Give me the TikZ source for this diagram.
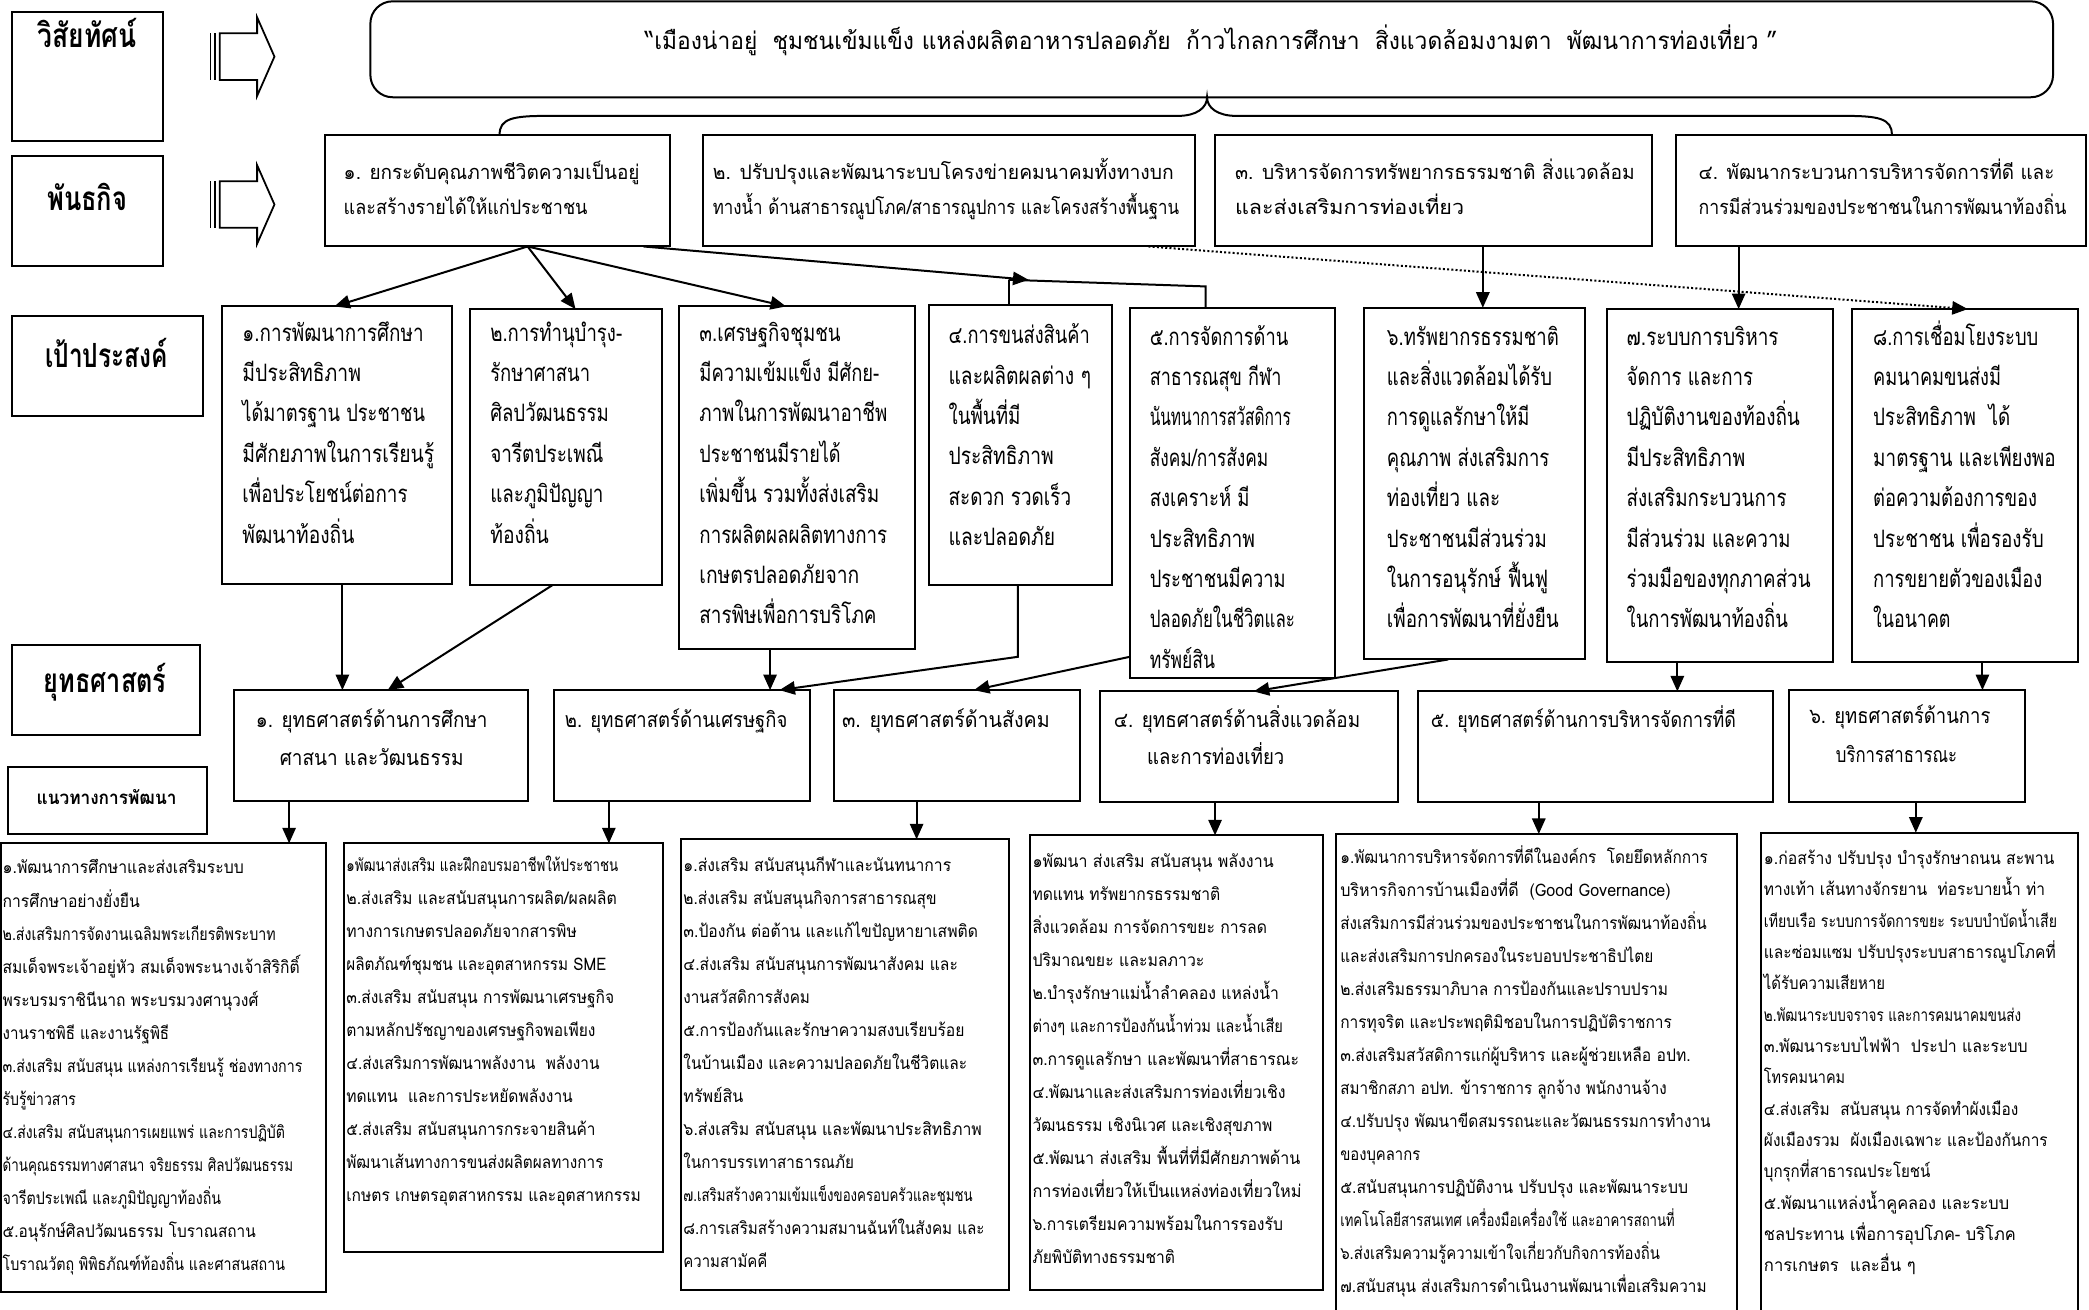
\documentclass[tikz,border=0pt]{standalone}
\usepackage{fontspec}
\usepackage{graphicx}
\setmainfont{Loma}[Script=Thai]
\usetikzlibrary{arrows.meta,calc,fit}
\newlength\un \setlength\un{0.6pt}
\newcommand{\FL}[2]{\resizebox{#1\un}{\height}{#2}}
\newcommand{\TL}[1]{\begin{tabular}[t]{@{}l@{}}#1\end{tabular}}
\newcommand{\TC}[1]{\begin{tabular}[t]{@{}c@{}}#1\end{tabular}}
\newcommand{\fLab}{\bfseries\fontsize{15pt}{18pt}\selectfont}
\newcommand{\fLabS}{\bfseries\fontsize{8.4pt}{10pt}\selectfont}
\newcommand{\fVis}{\fontsize{10.8pt}{13pt}\selectfont}
\newcommand{\fMis}{\fontsize{9pt}{15.6pt}\selectfont}
\newcommand{\fGoal}{\fontsize{10.8pt}{18.2pt}\selectfont}
\newcommand{\fStr}{\fontsize{9.6pt}{17pt}\selectfont}
\newcommand{\fBot}{\fontsize{7.8pt}{14.88pt}\selectfont}
\newcommand{\fBotB}{\fontsize{7.8pt}{14.1pt}\selectfont}
\tikzset{
  bx/.style={draw, line width=0.9pt, inner sep=0pt, outer sep=0pt},
  tx/.style={inner sep=0pt, outer sep=0pt, anchor=base west},
  txc/.style={inner sep=0pt, outer sep=0pt, anchor=base},
  con/.style={line width=0.9pt},
  arr/.style={con, -{Triangle[length=7pt,width=6pt]}},
  dots/.style={line width=0.9pt, densely dotted, -{Triangle[length=7pt,width=6pt]}},
  blk/.style={line width=0.8pt}
}
\begin{document}
\begin{tikzpicture}[x=0.6pt,y=-0.6pt]
\useasboundingbox (0,0) rectangle (1568,983);
\fill[white] (0,0) rectangle (1568,983);

% ---------- left labels ----------
\node[bx, fit={(9,9) (122,106)}] (L1) {};
\node[txc, font=\fLab] (L1t) at (65.5,36) {\FL{74}{วิสัยทัศน์}};
\node[bx, fit={(9,117) (122,200)}] (L2) {};
\node[txc, font=\fLab] (L2t) at (65.5,158) {\FL{60}{พันธกิจ}};
\node[bx, fit={(9,237) (152,312)}] (L3) {};
\node[txc, font=\fLab] (L3t) at (80,276) {\FL{92}{เป้าประสงค์}};
\node[bx, fit={(9,484) (150,552)}] (L4) {};
\node[txc, font=\fLab] (L4t) at (79,520) {\FL{92}{ยุทธศาสตร์}};
\node[bx, fit={(6,576) (155,626)}] (L5) {};
\node[txc, font=\fLabS] (L5t) at (80,604) {\FL{105}{แนวทางการพัฒนา}};

% ---------- block arrows ----------
\foreach \dy in {0,111}{
  \draw[blk] (158,{25+\dy}) -- (158,{60+\dy});
  \draw[blk] (161.5,{25+\dy}) -- (161.5,{60+\dy});
  \draw[blk] (165,{25+\dy}) -- (193,{25+\dy}) -- (193,{13+\dy}) -- (206,{42.5+\dy})
     -- (193,{72+\dy}) -- (193,{60+\dy}) -- (165,{60+\dy}) -- cycle;
}

% ---------- vision ----------
\node[bx, rounded corners=10pt, fit={(278,1) (1541,73)}] (V) {};
\node[txc, font=\fVis] (Vt) at (909,37) {\FL{850}{“เมืองน่าอยู่\ \ ชุมชนเข้มแข็ง แหล่งผลิตอาหารปลอดภัย\ \ ก้าวไกลการศึกษา\ \ สิ่งแวดล้อมงามตา\ \ พัฒนาการท่องเที่ยว ”}};

% ---------- missions ----------
\node[bx, fit={(244,101) (503,185)}] (M1) {};
\node[tx, font=\fMis] (M1t) at (258,135) {\TL{\FL{222}{๑. ยกระดับคุณภาพชีวิตความเป็นอยู่}\\ \FL{183}{และสร้างรายได้ให้แก่ประชาชน}}};
\node[bx, fit={(528,101) (897,185)}] (M2) {};
\node[tx, font=\fMis] (M2t) at (535,135) {\TL{\FL{346}{๒. ปรับปรุงและพัฒนาระบบโครงข่ายคมนาคมทั้งทางบก}\\ \FL{350}{ทางน้ำ ด้านสาธารณูปโภค/สาธารณูปการ และโครงสร้างพื้นฐาน}}};
\node[bx, fit={(912,101) (1240,185)}] (M3) {};
\node[tx, font=\fMis] (M3t) at (927,135) {\TL{\FL{300}{๓. บริหารจัดการทรัพยากรธรรมชาติ สิ่งแวดล้อม}\\ \FL{172}{และส่งเสริมการท่องเที่ยว}}};
\node[bx, fit={(1258,101) (1566,185)}] (M4) {};
\node[tx, font=\fMis] (M4t) at (1275,135) {\TL{\FL{267}{๔. พัฒนากระบวนการบริหารจัดการที่ดี และ}\\ \FL{276}{การมีส่วนร่วมของประชาชนในการพัฒนาท้องถิ่น}}};

% brace
\coordinate (bL) at ($(M1.north west)+(131,0)$);
\coordinate (bT) at ($(V.south west)+(628,0)$);
\coordinate (bR) at ($(M4.north west)+(162,0)$);
\draw[con] (bL) .. controls ($(bL)+(0,-12)$) and ($(bL)+(10,-14)$) .. ($(bL)+(35,-14)$)
  -- ($(bT)+(-22,14)$) .. controls ($(bT)+(-8,14)$) and ($(bT)+(0,8)$) .. (bT)
  .. controls ($(bT)+(0,8)$) and ($(bT)+(8,14)$) .. ($(bT)+(22,14)$)
  -- ($(bR)+(-35,-14)$) .. controls ($(bR)+(-10,-14)$) and ($(bR)+(0,-12)$) .. (bR);

% ---------- goals ----------
\node[bx, fit={(167,230) (339,438)}] (G1) {};
\node[tx, font=\fGoal] (G1t) at (182,256) {\TL{\FL{136}{๑.การพัฒนาการศึกษา}\\ \FL{89}{มีประสิทธิภาพ}\\ \FL{137}{ได้มาตรฐาน ประชาชน}\\ \FL{144}{มีศักยภาพในการเรียนรู้}\\ \FL{124}{เพื่อประโยชน์ต่อการ}\\ \FL{84}{พัฒนาท้องถิ่น}}};
\node[bx, fit={(353,232) (497,439)}] (G2) {};
\node[tx, font=\fGoal] (G2t) at (368,256) {\TL{\FL{99}{๒.การทำนุบำรุง-}\\ \FL{75}{รักษาศาสนา}\\ \FL{89}{ศิลปวัฒนธรรม}\\ \FL{85}{จารีตประเพณี}\\ \FL{85}{และภูมิปัญญา}\\ \FL{44}{ท้องถิ่น}}};
\node[bx, fit={(510,230) (687,487)}] (G3) {};
\node[tx, font=\fGoal] (G3t) at (525,256) {\TL{\FL{106}{๓.เศรษฐกิจชุมชน}\\ \FL{135}{มีความเข้มแข็ง มีศักย-}\\ \FL{141}{ภาพในการพัฒนาอาชีพ}\\ \FL{106}{ประชาชนมีรายได้}\\ \FL{135}{เพิ่มขึ้น รวมทั้งส่งเสริม}\\ \FL{141}{การผลิตผลผลิตทางการ}\\ \FL{120}{เกษตรปลอดภัยจาก}\\ \FL{133}{สารพิษเพื่อการบริโภค}}};
\node[bx, fit={(697,229) (835,439)}] (G4) {};
\node[tx, font=\fGoal] (G4t) at (712,258) {\TL{\FL{106}{๔.การขนส่งสินค้า}\\ \FL{107}{และผลิตผลต่าง ๆ}\\ \FL{54}{ในพื้นที่มี}\\ \FL{79}{ประสิทธิภาพ}\\ \FL{92}{สะดวก รวดเร็ว}\\ \FL{80}{และปลอดภัย}}};
\node[bx, fit={(848,231) (1002,509)}] (G5) {};
\node[tx, font=\fGoal] (G5t) at (863,259) {\TL{\FL{104}{๕.การจัดการด้าน}\\ \FL{99}{สาธารณสุข กีฬา}\\ \FL{106}{นันทนาการสวัสดิการ}\\ \FL{89}{สังคม/การสังคม}\\ \FL{75}{สงเคราะห์ มี}\\ \FL{79}{ประสิทธิภาพ}\\ \FL{102}{ประชาชนมีความ}\\ \FL{109}{ปลอดภัยในชีวิตและ}\\ \FL{49}{ทรัพย์สิน}}};
\node[bx, fit={(1024,231) (1190,495)}] (G6) {};
\node[tx, font=\fGoal] (G6t) at (1041,259) {\TL{\FL{129}{๖.ทรัพยากรธรรมชาติ}\\ \FL{124}{และสิ่งแวดล้อมได้รับ}\\ \FL{107}{การดูแลรักษาให้มี}\\ \FL{122}{คุณภาพ ส่งเสริมการ}\\ \FL{85}{ท่องเที่ยว และ}\\ \FL{120}{ประชาชนมีส่วนร่วม}\\ \FL{121}{ในการอนุรักษ์ ฟื้นฟู}\\ \FL{129}{เพื่อการพัฒนาที่ยั่งยืน}}};
\node[bx, fit={(1206,232) (1376,497)}] (G7) {};
\node[tx, font=\fGoal] (G7t) at (1221,259) {\TL{\FL{114}{๗.ระบบการบริหาร}\\ \FL{95}{จัดการ และการ}\\ \FL{130}{ปฏิบัติงานของท้องถิ่น}\\ \FL{89}{มีประสิทธิภาพ}\\ \FL{120}{ส่งเสริมกระบวนการ}\\ \FL{123}{มีส่วนร่วม และความ}\\ \FL{138}{ร่วมมือของทุกภาคส่วน}\\ \FL{121}{ในการพัฒนาท้องถิ่น}}};
\node[bx, fit={(1390,232) (1560,497)}] (G8) {};
\node[tx, font=\fGoal] (G8t) at (1406,259) {\TL{\FL{124}{๘.การเชื่อมโยงระบบ}\\ \FL{96}{คมนาคมขนส่งมี}\\ \FL{103}{ประสิทธิภาพ\ \ ได้}\\ \FL{137}{มาตรฐาน และเพียงพอ}\\ \FL{123}{ต่อความต้องการของ}\\ \FL{128}{ประชาชน เพื่อรองรับ}\\ \FL{127}{การขยายตัวของเมือง}\\ \FL{58}{ในอนาคต}}};

% ---------- strategies ----------
\node[bx, fit={(176,518) (396,601)}] (S1) {};
\node[txc, font=\fStr] (S1t) at (279,546) {\TC{\FL{174}{๑. ยุทธศาสตร์ด้านการศึกษา}\\ \FL{138}{ศาสนา และวัฒนธรรม}}};
\node[bx, fit={(416,518) (608,601)}] (S2) {};
\node[tx, font=\fStr] (S2t) at (424,546) {\FL{167}{๒. ยุทธศาสตร์ด้านเศรษฐกิจ}};
\node[bx, fit={(626,518) (811,601)}] (S3) {};
\node[tx, font=\fStr] (S3t) at (632,546) {\FL{156}{๓. ยุทธศาสตร์ด้านสังคม}};
\node[bx, fit={(826,519) (1049,602)}] (S4) {};
\node[tx, font=\fStr] (S4t) at (836,546) {\FL{185}{๔. ยุทธศาสตร์ด้านสิ่งแวดล้อม}};
\node[tx, font=\fStr] (S4u) at (861,574) {\FL{103}{และการท่องเที่ยว}};
\node[bx, fit={(1064,519) (1331,602)}] (S5) {};
\node[tx, font=\fStr] (S5t) at (1074,546) {\FL{229}{๕. ยุทธศาสตร์ด้านการบริหารจัดการที่ดี}};
\node[bx, fit={(1343,518) (1520,602)}] (S6) {};
\node[tx, font=\fStr] (S6t) at (1358,543) {\FL{136}{๖. ยุทธศาสตร์ด้านการ}};
\node[tx, font=\fStr] (S6u) at (1378,572) {\FL{91}{บริการสาธารณะ}};

% ---------- development guidelines ----------
\node[bx, fit={(1,633) (245,970)}] (B1) {};
\node[tx, font=\fBot] (B1t) at (2,656) {\TL{\FL{181}{๑.พัฒนาการศึกษาและส่งเสริมระบบ}\\ \FL{103}{การศึกษาอย่างยั่งยืน}\\ \FL{205}{๒.ส่งเสริมการจัดงานเฉลิมพระเกียรติพระบาท}\\ \FL{223}{สมเด็จพระเจ้าอยู่หัว สมเด็จพระนางเจ้าสิริกิติ์}\\ \FL{192}{พระบรมราชินีนาถ พระบรมวงศานุวงศ์}\\ \FL{125}{งานราชพิธี และงานรัฐพิธี}\\ \FL{225}{๓.ส่งเสริม สนับสนุน แหล่งการเรียนรู้ ช่องทางการ}\\ \FL{55}{รับรู้ข่าวสาร}\\ \FL{212}{๔.ส่งเสริม สนับสนุนการเผยแพร่ และการปฏิบัติ}\\ \FL{218}{ด้านคุณธรรมทางศาสนา จริยธรรม ศิลปวัฒนธรรม}\\ \FL{164}{จารีตประเพณี และภูมิปัญญาท้องถิ่น}\\ \FL{190}{๕.อนุรักษ์ศิลปวัฒนธรรม โบราณสถาน}\\ \FL{212}{โบราณวัตถุ พิพิธภัณฑ์ท้องถิ่น และศาสนสถาน}}};

\node[bx, fit={(258,633) (498,940)}] (B2) {};
\node[tx, font=\fBot] (B2t) at (260,654) {\TL{\FL{204}{๑พัฒนาส่งเสริม และฝึกอบรมอาชีพให้ประชาชน}\\ \FL{203}{๒.ส่งเสริม และสนับสนุนการผลิต/ผลผลิต}\\ \FL{173}{ทางการเกษตรปลอดภัยจากสารพิษ}\\ \FL{195}{ผลิตภัณฑ์ชุมชน และอุตสาหกรรม SME}\\ \FL{201}{๓.ส่งเสริม สนับสนุน การพัฒนาเศรษฐกิจ}\\ \FL{187}{ตามหลักปรัชญาของเศรษฐกิจพอเพียง}\\ \FL{190}{๔.ส่งเสริมการพัฒนาพลังงาน\ \ พลังงาน}\\ \FL{170}{ทดแทน\ \ และการประหยัดพลังงาน}\\ \FL{187}{๕.ส่งเสริม สนับสนุนการกระจายสินค้า}\\ \FL{193}{พัฒนาเส้นทางการขนส่งผลิตผลทางการ}\\ \FL{221}{เกษตร เกษตรอุตสาหกรรม และอุตสาหกรรม}}};

\node[bx, fit={(511,630) (757,968)}] (B3) {};
\node[tx, font=\fBot] (B3t) at (513,654) {\TL{\FL{201}{๑.ส่งเสริม สนับสนุนกีฬาและนันทนาการ}\\ \FL{190}{๒.ส่งเสริม สนับสนุนกิจการสาธารณสุข}\\ \FL{221}{๓.ป้องกัน ต่อต้าน และแก้ไขปัญหายาเสพติด}\\ \FL{206}{๔.ส่งเสริม สนับสนุนการพัฒนาสังคม และ}\\ \FL{95}{งานสวัสดิการสังคม}\\ \FL{211}{๕.การป้องกันและรักษาความสงบเรียบร้อย}\\ \FL{213}{ในบ้านเมือง และความปลอดภัยในชีวิตและ}\\ \FL{45}{ทรัพย์สิน}\\ \FL{224}{๖.ส่งเสริม สนับสนุน และพัฒนาประสิทธิภาพ}\\ \FL{128}{ในการบรรเทาสาธารณภัย}\\ \FL{217}{๗.เสริมสร้างความเข้มแข็งของครอบครัวและชุมชน}\\ \FL{226}{๘.การเสริมสร้างความสมานฉันท์ในสังคม และ}\\ \FL{63}{ความสามัคคี}}};

\node[bx, fit={(773,627) (993,968)}] (B4) {};
\node[tx, font=\fBot] (B4t) at (775,651) {\TL{\FL{181}{๑พัฒนา ส่งเสริม สนับสนุน พลังงาน}\\ \FL{141}{ทดแทน ทรัพยากรธรรมชาติ}\\ \FL{176}{สิ่งแวดล้อม การจัดการขยะ การลด}\\ \FL{129}{ปริมาณขยะ และมลภาวะ}\\ \FL{185}{๒.บำรุงรักษาแม่น้ำลำคลอง แหล่งน้ำ}\\ \FL{188}{ต่างๆ และการป้องกันน้ำท่วม และน้ำเสีย}\\ \FL{200}{๓.การดูแลรักษา และพัฒนาที่สาธารณะ}\\ \FL{190}{๔.พัฒนาและส่งเสริมการท่องเที่ยวเชิง}\\ \FL{180}{วัฒนธรรม เชิงนิเวศ และเชิงสุขภาพ}\\ \FL{201}{๕.พัฒนา ส่งเสริม พื้นที่ที่มีศักยภาพด้าน}\\ \FL{202}{การท่องเที่ยวให้เป็นแหล่งท่องเที่ยวใหม่}\\ \FL{188}{๖.การเตรียมความพร้อมในการรองรับ}\\ \FL{107}{ภัยพิบัติทางธรรมชาติ}}};

\node[bx, fit={(1003,626) (1304,995)}] (B5) {};
\node[tx, font=\fBot] (B5t) at (1006,648) {\TL{\FL{276}{๑.พัฒนาการบริหารจัดการที่ดีในองค์กร\ \ โดยยึดหลักการ}\\ \FL{248}{บริหารกิจการบ้านเมืองที่ดี\ \ (Good Governance)}\\ \FL{275}{ส่งเสริมการมีส่วนร่วมของประชาชนในการพัฒนาท้องถิ่น}\\ \FL{235}{และส่งเสริมการปกครองในระบอบประชาธิปไตย}\\ \FL{246}{๒.ส่งเสริมธรรมาภิบาล การป้องกันและปราบปราม}\\ \FL{249}{การทุจริต และประพฤติมิชอบในการปฏิบัติราชการ}\\ \FL{263}{๓.ส่งเสริมสวัสดิการแก่ผู้บริหาร และผู้ช่วยเหลือ อปท.}\\ \FL{245}{สมาชิกสภา อปท. ข้าราชการ ลูกจ้าง พนักงานจ้าง}\\ \FL{278}{๔.ปรับปรุง พัฒนาขีดสมรรถนะและวัฒนธรรมการทำงาน}\\ \FL{60}{ของบุคลากร}\\ \FL{261}{๕.สนับสนุนการปฏิบัติงาน ปรับปรุง และพัฒนาระบบ}\\ \FL{251}{เทคโนโลยีสารสนเทศ เครื่องมือเครื่องใช้ และอาคารสถานที่}\\ \FL{240}{๖.ส่งเสริมความรู้ความเข้าใจเกี่ยวกับกิจการท้องถิ่น}\\ \FL{275}{๗.สนับสนุน ส่งเสริมการดำเนินงานพัฒนาเพื่อเสริมความ}}};

\node[bx, fit={(1322,625) (1560,995)}] (B6) {};
\node[tx, font=\fBotB] (B6t) at (1324,649) {\TL{\FL{218}{๑.ก่อสร้าง ปรับปรุง บำรุงรักษาถนน สะพาน}\\ \FL{211}{ทางเท้า เส้นทางจักรยาน\ \ ท่อระบายน้ำ ท่า}\\ \FL{220}{เทียบเรือ ระบบการจัดการขยะ ระบบบำบัดน้ำเสีย}\\ \FL{219}{และซ่อมแซม ปรับปรุงระบบสาธารณูปโภคที่}\\ \FL{91}{ได้รับความเสียหาย}\\ \FL{193}{๒.พัฒนาระบบจราจร และการคมนาคมขนส่ง}\\ \FL{198}{๓.พัฒนาระบบไฟฟ้า\ \ ประปา และระบบ}\\ \FL{61}{โทรคมนาคม}\\ \FL{191}{๔.ส่งเสริม\ \ สนับสนุน การจัดทำผังเมือง}\\ \FL{213}{ผังเมืองรวม\ \ ผังเมืองเฉพาะ และป้องกันการ}\\ \FL{125}{บุกรุกที่สาธารณประโยชน์}\\ \FL{184}{๕.พัฒนาแหล่งน้ำคูคลอง และระบบ}\\ \FL{189}{ชลประทาน เพื่อการอุปโภค- บริโภค}\\ \FL{114}{การเกษตร\ \ และอื่น ๆ}}};

% ---------- connectors: missions -> goals ----------
\coordinate (F) at ($(M1.south west)+(152,0)$);
\draw[arr] (F) -- ($(G1.north west)+(84,0)$);
\draw[arr] (F) -- ($(G2.north west)+(79,0)$);
\draw[arr] (F) -- ($(G3.north west)+(80,0)$);
\coordinate (J) at ($(G4.north west)+(60,-19)$);
\coordinate (K) at ($(G5.north west)+(57,-16)$);
\draw[con] (J) -- (K) -- ($(G5.north west)+(57,0)$);
\draw[con] (J) -- ($(G4.north west)+(60,0)$);
\draw[arr] ($(M1.south west)+(239,0)$) -- ($(G4.north west)+(75,-19)$);
\draw[arr] ($(M3.south west)+(201,0)$) -- ($(G6.north west)+(89,0)$);
\draw[arr] ($(M4.south west)+(47,0)$) -- ($(G7.north west)+(99,0)$);
\draw[dots] ($(M2.south west)+(334,0)$) -- ($(G8.north west)+(87,0)$);

% ---------- goals -> strategies ----------
\draw[arr] ($(G1.south west)+(90,0)$) -- ($(S1.north west)+(81,0)$);
\draw[arr] ($(G2.south west)+(62,0)$) -- ($(S1.north west)+(115,0)$);
\draw[arr] ($(G3.south west)+(68,0)$) -- ($(S2.north west)+(162,0)$);
\draw[arr] ($(G4.south west)+(67,0)$) -- ($(G4.south west)+(67,54)$) -- ($(S2.north west)+(169,0)$);
\draw[arr] ($(G5.south west)+(0,-16)$) -- ($(S3.north west)+(105,0)$);
\draw[arr] ($(G6.south west)+(63,0)$) -- ($(S4.north west)+(115,0)$);
\draw[arr] ($(G7.south west)+(53,0)$) -- ($(S5.north west)+(195,0)$);
\draw[arr] ($(G8.south west)+(98,0)$) -- ($(S6.north west)+(145,0)$);

% ---------- strategies -> guidelines ----------
\draw[arr] ($(S1.south west)+(41,0)$) -- ($(B1.north west)+(216,0)$);
\draw[arr] ($(S2.south west)+(41,0)$) -- ($(B2.north west)+(199,0)$);
\draw[arr] ($(S3.south west)+(62,0)$) -- ($(B3.north west)+(177,0)$);
\draw[arr] ($(S4.south west)+(86,0)$) -- ($(B4.north west)+(139,0)$);
\draw[arr] ($(S5.south west)+(91,0)$) -- ($(B5.north west)+(152,0)$);
\draw[arr] ($(S6.south west)+(95,0)$) -- ($(B6.north west)+(116,0)$);
\end{tikzpicture}
\end{document}
